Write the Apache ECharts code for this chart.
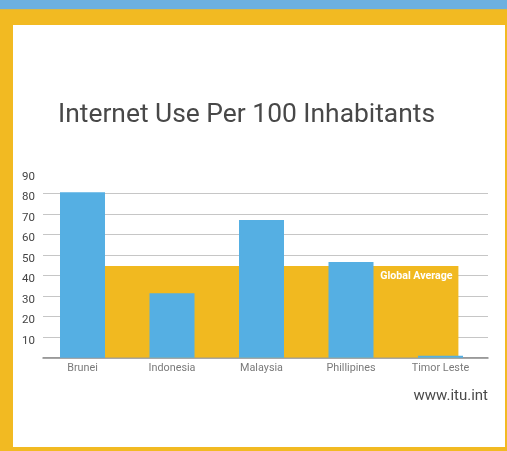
<!DOCTYPE html>
<html>
<head>
<meta charset="utf-8">
<script src="https://cdn.jsdelivr.net/npm/echarts@6/dist/echarts.min.js"></script>
<style>
html,body{margin:0;padding:0;}
body{width:507px;height:451px;position:relative;overflow:hidden;background:#F2BA22;}
#stripe{position:absolute;left:0;top:0;width:507px;height:10px;background:#6CB0E0;border-bottom:1px solid #d9b845;box-sizing:border-box;}
#panel{position:absolute;left:13px;top:25px;width:492px;height:422px;background:#fff;}
#chart{position:absolute;left:0;top:0;width:507px;height:451px;}
</style>
</head>
<body>
<div id="stripe"></div>
<div id="panel"></div>
<div id="chart"></div>
<script>
const categories = ['Brunei', 'Indonesia', 'Malaysia', 'Phillipines', 'Timor Leste'];
const internetUse = [80.5, 31.3, 67, 46.6, 0.9];
const globalAverage = 44.6;
const averageSpan = [0.25, 4.2]; // band extent in category-index units
const yTicks = { min: 0, max: 90, interval: 10 };

const FONT = 'Roboto';
const chart = echarts.init(document.getElementById('chart'), null, { renderer: 'canvas' });

chart.setOption({
  backgroundColor: 'transparent',
  animation: false,
  textStyle: { fontFamily: FONT },
  title: [
    {
      text: 'Internet Use Per 100 Inhabitants',
      left: 58, top: 102, padding: 0,
      textStyle: { fontFamily: FONT, fontSize: 26.4, fontWeight: 'normal', color: '#484848' }
    },
    {
      text: 'www.itu.int',
      right: 19, top: 389, padding: 0,
      textStyle: { fontFamily: FONT, fontSize: 15, fontWeight: 'normal', color: '#4a4a4a' }
    }
  ],
  grid: [
    { left: 43, right: 19, top: 172.7, bottom: 93.3 },
    { left: 37.75, right: 21.75, top: 172.7, bottom: 93.3 }
  ],
  xAxis: [
    {
      gridIndex: 0, type: 'category', data: categories,
      axisLine: { show: true, lineStyle: { color: '#8a8a8a', width: 1.5 } },
      axisTick: { show: false }, axisLabel: { show: false }, splitLine: { show: false }
    },
    {
      gridIndex: 1, type: 'category', data: categories,
      axisLine: { show: false }, axisTick: { show: false },
      axisLabel: { color: '#7a7a7a', fontSize: 10.8, margin: 5, fontFamily: FONT }
    },
    {
      gridIndex: 1, type: 'value', min: -0.5, max: 4.5, show: false
    }
  ],
  yAxis: [
    {
      gridIndex: 0, type: 'value', min: yTicks.min, max: yTicks.max, interval: yTicks.interval,
      axisLine: { show: false }, axisTick: { show: false },
      axisLabel: {
        color: '#444', fontSize: 11.5, margin: 8, fontFamily: FONT,
        showMinLabel: false, verticalAlign: 'top', lineHeight: 8
      },
      splitLine: { show: true, showMaxLine: false, lineStyle: { color: '#c6c6c6', width: 1.2 } }
    },
    {
      gridIndex: 1, type: 'value', min: yTicks.min, max: yTicks.max, interval: yTicks.interval, show: false
    }
  ],
  series: [
    {
      name: 'Global Average', type: 'line',
      xAxisIndex: 2, yAxisIndex: 1,
      data: [
        [averageSpan[0], globalAverage],
        [averageSpan[1], globalAverage]
      ],
      symbol: 'none', lineStyle: { width: 0 },
      areaStyle: { color: '#F1B920', opacity: 1 },
      markPoint: {
        symbol: 'circle', symbolSize: 0,
        label: {
          show: true, position: 'left', distance: 6, offset: [0, 10],
          formatter: 'Global Average', color: '#fff', fontSize: 10.6, fontWeight: 'bold', fontFamily: FONT
        },
        data: [{ coord: [averageSpan[1], globalAverage] }]
      },
      z: 2
    },
    {
      name: 'Internet Use', type: 'bar',
      xAxisIndex: 1, yAxisIndex: 1,
      data: internetUse, barWidth: 45,
      itemStyle: { color: '#55AFE3' },
      z: 3
    }
  ]
});
</script>
</body>
</html>
